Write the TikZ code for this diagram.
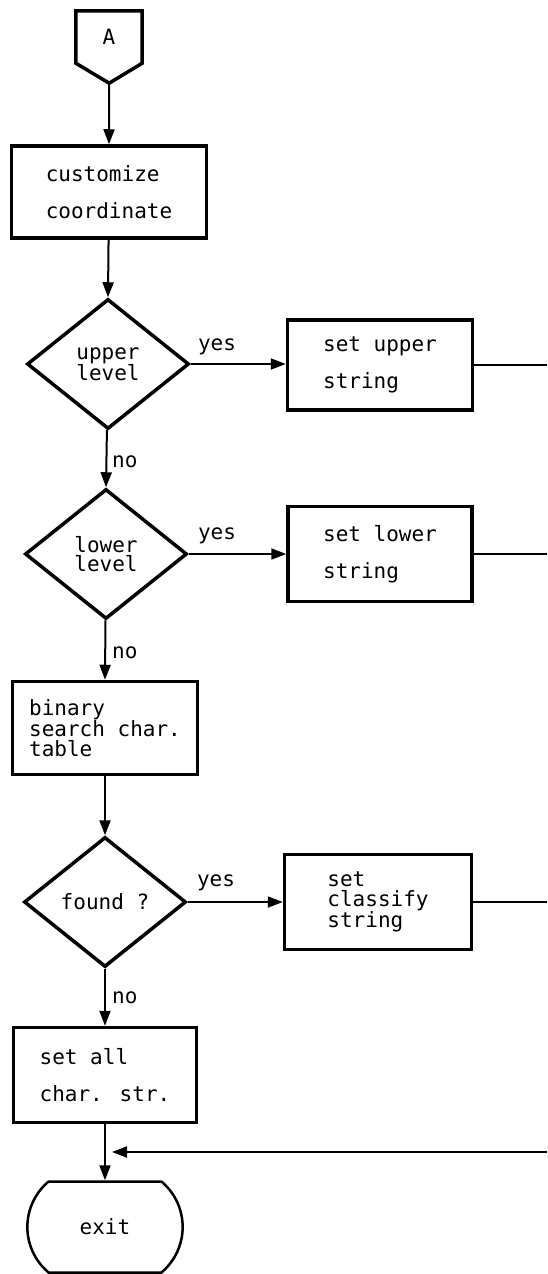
\documentclass[tikz,border=0pt]{standalone}
\usepackage{fontspec}
\newfontfamily\dotfont{DejaVu Sans Mono}
\usepackage{tikz}
\usetikzlibrary{shapes.geometric, shapes.misc, arrows.meta, calc}

\begin{document}
\begin{tikzpicture}[x=1pt, y=-1pt,
  box/.style={draw, line width=3.5pt, align=left, inner sep=0pt, font=\dotfont\fontsize{21}{37}\selectfont},
  tightbox/.style={box, font=\dotfont\fontsize{21}{20}\selectfont},
  decision/.style={draw, diamond, line width=3.5pt, minimum width=162pt, minimum height=130pt, inner sep=0pt, align=center, font=\dotfont\fontsize{21}{19.5}\selectfont},
  flow/.style={line width=2pt, -{Triangle[length=15pt, width=11pt]}},
  wire/.style={line width=2pt},
  lbl/.style={inner sep=0pt, font=\dotfont\fontsize{21}{20}\selectfont}]
  \useasboundingbox (0,0) rectangle (547,1274);
  \coordinate (edge) at (547,0);

  % off-page connector
  \node[minimum width=66pt, minimum height=52pt, inner sep=0pt, font=\dotfont\fontsize{21}{20}\selectfont] (A) at (109,37) {A};
  \draw[line width=3.5pt] (A.south west) -- (A.north west) -- (A.north east) -- (A.south east) -- ++(-33,20) coordinate (Atip) -- cycle;

  % main column
  \node[box, minimum width=195pt, minimum height=92pt] (cust) at (109,192) {customize\\coordinate};
  \node[decision] (upper) at (108,364) {upper\\level};
  \node[decision] (lower) at (106,554) {lower\\level};
  \node[tightbox, minimum width=185pt, minimum height=93pt] (search) at (105,728) {binary\\search char.\\table};
  \node[decision] (found) at (105,902) {found ?};
  \node[box, minimum width=183pt, minimum height=95pt] (setall) at (105,1075) {set all\\char. str.};
  \node[draw, rounded rectangle, rounded rectangle arc length=100, line width=2.5pt, minimum width=162pt, minimum height=91pt, font=\dotfont\fontsize{21}{20}\selectfont] (exit) at (105,1227) {exit};

  % right column
  \node[box, minimum width=185pt, minimum height=90pt] (setup) at (380,365) {set upper\\string};
  \node[box, minimum width=184pt, minimum height=95pt] (setlow) at (380,554) {set lower\\string};
  \node[tightbox, minimum width=187pt, minimum height=95pt] (setcls) at (378,902) {set\\classify\\string};

  % labels
  \node[lbl] (yes1) at (217,347) {yes};
  \node[lbl] (yes2) at (217,536) {yes};
  \node[lbl] (yes3) at (216,883) {yes};
  \node[lbl, anchor=west] (no1) at (112,462) {no};
  \node[lbl, anchor=west] (no2) at (112,653) {no};
  \node[lbl, anchor=west] (no3) at (112,998) {no};

  % connectors
  \draw[flow] (Atip) -- (cust.north);
  \draw[flow] (cust) -- (upper.north);
  \draw[flow] (upper) -- (lower.north);
  \draw[flow] (lower) -- (search.north);
  \draw[flow] (search) -- (found.north);
  \draw[flow] (found) -- (setall.north);
  \draw[flow] (setall) -- (exit.north);
  \draw[flow] (upper.east) -- (upper.east -| setup.west);
  \draw[flow] (lower.east) -- (lower.east -| setlow.west);
  \draw[flow] (found.east) -- (found.east -| setcls.west);
  \draw[wire] (setup.east) -- (setup.east -| edge);
  \draw[wire] (setlow.east) -- (setlow.east -| edge);
  \draw[wire] (setcls.east) -- (setcls.east -| edge);
  \coordinate (back) at (547,1152);
  \coordinate (join) at (112,1152);
  \draw[flow] (back) -- (join);
\end{tikzpicture}
\end{document}
